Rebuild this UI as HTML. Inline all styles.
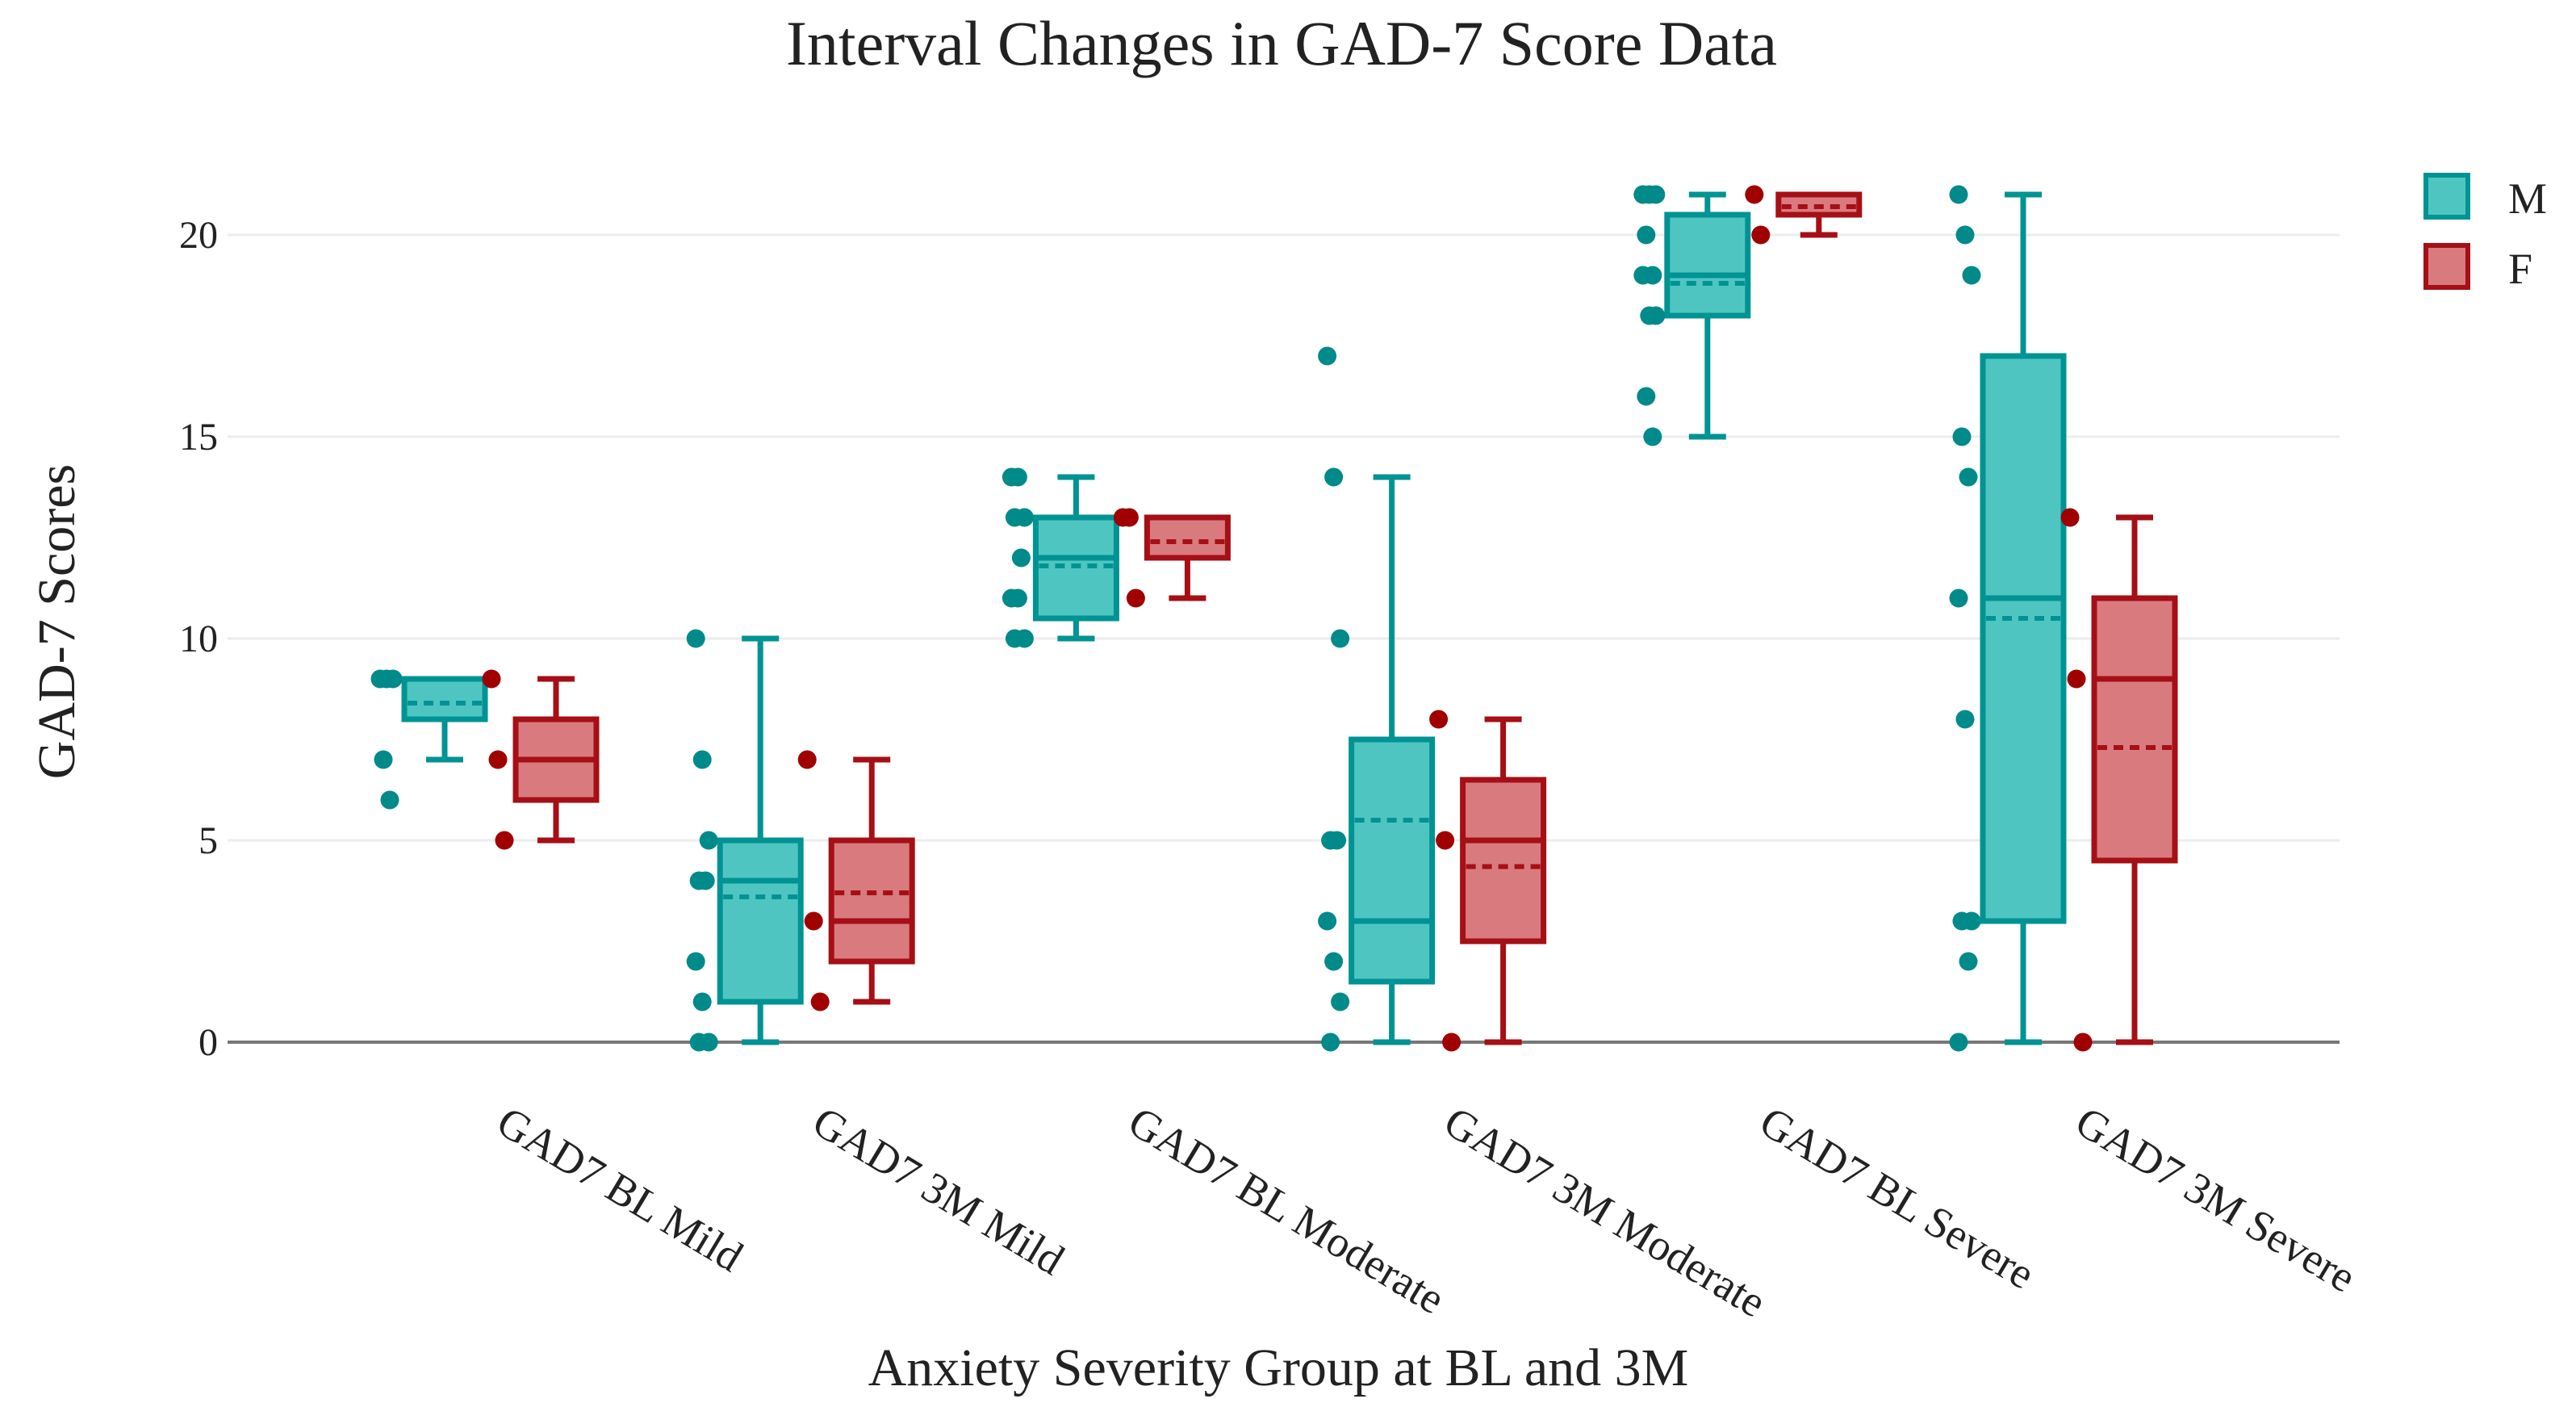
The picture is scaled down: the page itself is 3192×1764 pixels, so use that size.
<!DOCTYPE html>
<html><head><meta charset="utf-8">
<style>
html,body{margin:0;padding:0;background:#fff;}
svg text{font-family:"Liberation Serif",serif;fill:#222;}
</style></head>
<body>
<svg id="chart" width="3192" height="1759" viewBox="0 0 3192 1759" xmlns="http://www.w3.org/2000/svg">
<rect width="3192" height="1759" fill="#fff"/>
<text x="1588" y="80" font-size="78" text-anchor="middle">Interval Changes in GAD-7 Score Data</text>
<text transform="translate(92,770) rotate(-90)" font-size="66" text-anchor="middle">GAD-7 Scores</text>
<text x="1584" y="1716" font-size="66" text-anchor="middle">Anxiety Severity Group at BL and 3M</text>
<g id="grid"></g>
<g id="marks"></g>
<g>
  <rect x="3006" y="217" width="52" height="52" fill="#4FC5C2" stroke="#009394" stroke-width="6"/>
  <text x="3108" y="264" font-size="54">M</text>
  <rect x="3006" y="304" width="52" height="52" fill="#D97B7E" stroke="#A50F15" stroke-width="6"/>
  <text x="3108" y="351" font-size="54">F</text>
</g>
</svg>
<script>
const categories = ["GAD7 BL Mild","GAD7 3M Mild","GAD7 BL Moderate","GAD7 3M Moderate","GAD7 BL Severe","GAD7 3M Severe"];
const yTicks = [0,5,10,15,20];
// [low whisker, q1, median, q3, high whisker, mean]
const maleStats = [[7,8,9,9,9,8.4],[0,1,4,5,10,3.6],[10,10.5,12,13,14,11.8],[0,1.5,3,7.5,14,5.5],[15,18,19,20.5,21,18.8],[0,3,11,17,21,10.5]];
const femaleStats = [[5,6,7,8,9,7],[1,2,3,5,7,3.7],[11,12,13,13,13,12.4],[0,2.5,5,6.5,8,4.35],[20,20.5,21,21,21,20.7],[0,4.5,9,11,13,7.3]];
const malePoints = [[9,9,9,7,6],[10,7,5,4,4,2,1,0,0],[14,14,13,13,12,11,11,10,10],[17,14,10,5,5,3,2,1,0],[21,21,21,20,19,19,18,18,16,15],[21,20,19,15,14,11,8,3,3,2,0]];
const femalePoints = [[9,7,5],[7,3,1],[13,13,11],[8,5,0],[21,20],[13,9,0]];

const NS="http://www.w3.org/2000/svg";
const yScale = v => 1291 - v*50;
const xScale = i => 620 + i*391.2;
const grid=document.getElementById('grid'), marks=document.getElementById('marks');
function mk(tag,attrs,parent){const e=document.createElementNS(NS,tag);for(const k in attrs)e.setAttribute(k,attrs[k]);parent.appendChild(e);return e;}

yTicks.forEach(t=>{
  const l=mk('line',{x1:282,x2:2899,y1:yScale(t),y2:yScale(t),stroke:t===0?'#777':'#ececec','stroke-width':t===0?4:3},grid);
  
  
  const tx=mk('text',{x:270,y:yScale(t)+16,'font-size':48,'text-anchor':'end'},grid);
  tx.textContent=t;
  
  
});

categories.forEach((c,i)=>{
  const tx=mk('text',{transform:`translate(${xScale(i)-8},1400) rotate(31)`,'font-size':54},grid);
  tx.textContent=c;
  
  
});

function drawBox(i,st,pts,off,line,fill,dot,name){
  const cx=xScale(i)+off, hw=50, cap=23;
  const g=mk('g',{},marks);
  
  
  const [lo,q1,med,q3,hi,mean]=st;
  mk('line',{x1:cx,x2:cx,y1:yScale(hi),y2:yScale(q3),stroke:line,'stroke-width':7},g);
  mk('line',{x1:cx,x2:cx,y1:yScale(q1),y2:yScale(lo),stroke:line,'stroke-width':7},g);
  mk('line',{x1:cx-cap,x2:cx+cap,y1:yScale(hi),y2:yScale(hi),stroke:line,'stroke-width':7},g);
  mk('line',{x1:cx-cap,x2:cx+cap,y1:yScale(lo),y2:yScale(lo),stroke:line,'stroke-width':7},g);
  mk('rect',{x:cx-hw,y:yScale(q3),width:hw*2,height:Math.max(yScale(q1)-yScale(q3),1),fill:fill,stroke:line,'stroke-width':7},g);
  mk('line',{x1:cx-hw,x2:cx+hw,y1:yScale(med),y2:yScale(med),stroke:line,'stroke-width':7},g);
  mk('line',{x1:cx-hw+4,x2:cx+hw-4,y1:yScale(mean),y2:yScale(mean),stroke:line,'stroke-width':6,'stroke-dasharray':'12 8'},g);
  pts.forEach((p,j)=>{
    const jit=((j*37)%5-2)*4;
    const d=mk('circle',{cx:cx-72+jit,cy:yScale(p),r:11.5,fill:dot},marks);
    
    
  });
}
categories.forEach((c,i)=>{
  drawBox(i,maleStats[i],malePoints[i],-69,'#009394','#4FC5C2','#008A8A','male');
  drawBox(i,femaleStats[i],femalePoints[i],69,'#A50F15','#D97B7E','#A00000','female');
});
</script>
</body></html>
